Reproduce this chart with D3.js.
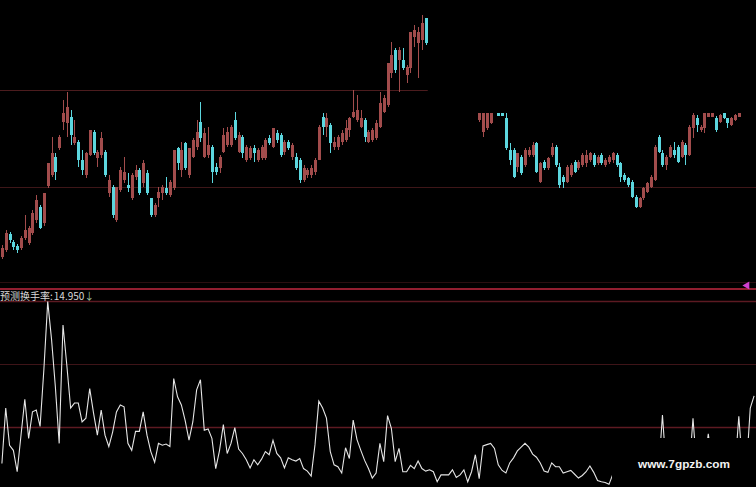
<!DOCTYPE html>
<html><head><meta charset="utf-8">
<script src="https://cdn.jsdelivr.net/npm/d3@7"></script>
<style>body{margin:0;background:#000}svg{display:block}</style>
</head><body>
<svg id="c" width="756" height="487"></svg>
<script>
// ---- data: [open, high, low, close] ----
const candlesLeft = [
[4.3,5.5,4.1,5.2],[5.0,7.0,4.8,6.7],[6.6,6.8,5.7,6.0],[5.8,6.0,5.0,5.3],[5.4,5.6,4.7,5.0],
[5.2,6.4,5.0,6.2],[6.2,8.5,6.0,7.0],[5.7,7.4,5.5,7.2],[6.7,9.0,6.5,8.7],[8.0,10.5,7.7,10.0],
[9.3,9.5,7.1,7.2],[7.7,10.7,7.4,10.7],[11.4,13.7,11.2,13.7],[12.5,16.3,12.3,14.7],[14.3,14.7,12.0,12.8],
[15.2,16.5,15.0,16.3],[17.8,20.0,17.0,18.7],[17.7,20.8,16.3,19.3],[18.3,19.0,15.5,16.5],[15.7,18.0,15.5,16.3],
[15.8,16.0,13.3,14.0],[14.0,15.0,12.5,13.0],[12.5,14.8,12.2,14.7],[14.5,17.0,14.4,17.0],[16.8,17.0,14.5,14.7],
[14.2,15.0,13.3,14.8],[14.5,16.8,14.2,16.2],[14.8,15.0,12.3,12.5],[10.7,12.5,10.3,12.0],[11.3,11.5,8.2,8.5],
[8.0,11.3,7.8,11.3],[11.0,13.3,10.8,13.0],[12.0,14.3,11.7,12.8],[11.5,12.7,10.8,11.2],[10.2,12.7,10.0,12.5],
[12.3,13.5,12.0,13.0],[13.0,13.2,10.5,10.7],[11.7,14.0,11.3,13.7],[12.7,13.0,10.5,10.7],[10.2,10.2,8.3,8.5],
[8.5,9.7,8.3,9.5],[10.2,11.3,9.3,10.8],[10.7,11.5,10.0,11.3],[11.2,12.3,10.5,10.7],[10.5,12.0,10.3,11.8],
[11.2,15.0,11.0,15.0],[15.2,15.3,13.0,13.7],[13.0,15.8,12.3,15.0],[15.7,15.8,13.0,13.2],[12.5,15.2,12.2,15.2],
[14.3,16.2,14.2,16.0],[15.3,18.0,15.0,16.8],[17.8,19.8,15.8,16.2],[14.3,17.2,14.2,16.7],[14.5,17.3,14.2,15.5],
[15.3,15.5,11.7,12.8],[13.3,13.7,12.5,12.8],[13.2,14.5,12.7,14.3],[14.8,17.2,14.7,16.5],[15.5,17.3,15.3,16.8],
[15.5,17.5,15.3,17.3],[18.0,18.8,16.0,16.2],[14.8,16.8,14.7,16.5],[16.3,16.5,14.2,14.7],[14.0,15.5,13.8,15.3],
[14.2,15.4,14.0,15.2],[15.2,15.5,13.8,14.7],[14.0,15.2,13.8,15.0],[14.2,15.5,14.0,15.3],[14.2,16.2,14.0,16.0],
[16.2,16.5,15.5,15.7],[15.3,17.2,15.2,17.2],[16.7,17.0,15.7,16.0],[16.5,16.7,14.3,14.5],[14.8,16.0,14.5,15.8],
[15.8,16.0,15.0,15.2],[14.3,15.7,14.0,15.5],[14.3,14.7,13.0,13.2],[14.0,14.2,11.7,12.0],[12.0,13.5,11.8,13.2],
[12.5,13.2,12.2,13.0],[12.5,13.5,12.2,13.2],[12.8,14.2,12.5,14.0],[14.0,17.5,14.0,17.3],[18.3,18.7,16.5,17.3],
[17.3,18.7,16.3,18.2],[17.5,17.7,14.7,15.7],[15.3,16.3,15.0,15.8],[15.3,16.5,15.0,16.3],[15.8,17.0,15.5,16.7],
[16.0,18.0,15.8,17.2],[17.0,18.3,16.3,18.2],[18.3,21.0,18.2,18.8],[18.0,20.5,17.8,19.0],[17.3,19.0,17.2,18.2],
[18.0,18.2,15.8,16.3],[15.8,17.0,15.7,16.8],[16.0,17.2,15.8,17.0],[16.2,18.0,16.0,17.7],[17.3,20.8,17.2,19.7],
[18.8,20.5,18.7,20.2],[19.5,23.7,19.3,23.7],[22.7,25.8,22.2,24.5],[25.0,25.2,22.7,23.0],[24.0,25.3,20.8,25.0],
[24.0,25.2,23.0,23.2],[22.5,23.5,21.7,23.3],[23.2,26.8,22.7,26.8],[26.3,27.5,25.3,27.0],[25.7,27.3,22.2,26.8],
[26.0,28.5,25.0,27.7],[28.2,28.2,25.5,25.7]
];
const rightStart = 125;
const candlesRight = [
[18.0,18.7,17.8,18.7],[16.8,18.7,16.3,18.7],[17.2,18.7,17.0,18.7],[17.7,18.7,17.6,18.7],null,
[18.7,18.7,18.4,18.4],[18.7,18.7,18.4,18.4],[18.2,18.7,15.0,15.2],[15.0,15.7,13.5,14.0],[15.0,15.2,12.2,12.3],
[13.3,14.7,12.8,14.7],[14.3,14.5,12.5,12.7],[13.5,15.2,13.3,15.0],[14.5,15.3,14.3,15.0],[14.5,15.8,14.3,15.5],
[15.7,15.8,12.7,12.8],[11.8,13.8,11.7,13.7],[13.8,14.0,13.0,13.2],[13.2,14.3,13.0,14.2],[14.5,15.7,14.3,15.3],
[15.3,15.5,13.3,13.5],[13.3,13.7,11.2,11.5],[12.3,12.5,11.2,11.8],[11.8,13.5,11.7,13.3],[12.5,13.7,12.3,13.5],
[13.8,14.0,12.7,12.8],[13.2,14.0,13.0,13.8],[13.5,14.7,13.3,14.5],[13.7,15.0,13.3,14.5],[14.0,14.8,13.8,14.7],
[14.5,14.7,13.3,13.5],[13.7,14.5,13.5,14.3],[14.5,14.7,13.5,13.7],[13.5,14.2,13.3,14.0],[13.8,14.5,13.6,14.3],
[14.0,14.8,13.7,14.7],[14.5,14.7,13.3,13.5],[13.7,13.8,11.8,12.3],[12.5,12.7,11.8,12.0],[12.2,12.3,11.3,11.5],
[11.8,12.0,10.2,10.3],[10.3,10.5,9.2,9.3],[9.3,10.3,9.2,10.2],[10.2,11.3,10.0,11.2],[10.8,11.8,10.7,11.7],
[11.3,12.5,11.2,12.3],[12.0,15.5,11.9,15.3],[16.3,16.5,14.7,14.8],[14.7,15.0,13.3,13.5],[13.5,14.5,13.0,14.3],
[14.3,15.5,14.2,15.3],[15.0,15.8,14.2,14.5],[15.3,15.5,13.7,13.8],[14.3,16.0,14.2,15.8],[15.5,15.7,13.5,14.5],
[14.5,17.5,14.4,17.3],[17.2,18.7,16.2,18.5],[18.2,18.5,16.8,17.5],[17.0,17.5,16.8,17.3],[17.2,18.7,16.7,18.7],
[18.3,18.7,18.3,18.7],[18.3,18.7,18.3,18.7],[18.2,18.4,16.8,17.0],[17.8,18.6,17.7,18.5],[18.7,18.7,18.1,18.2],
[18.2,18.2,17.2,17.7],[17.5,18.3,17.4,18.2],[18.0,18.6,17.9,18.5],[18.3,18.7,18.3,18.7]
];
const turnover = [
4.2,13.0,7.1,6.3,2.9,8.7,14.4,8.2,12.4,12.7,
10.1,19.2,29.9,23.9,16.4,7.4,26.2,19.8,13.0,13.8,
13.8,10.8,11.4,16.1,12.2,8.7,12.7,8.7,6.9,9.2,
12.4,13.5,13.2,7.4,6.3,9.3,9.3,12.4,8.7,6.1,
4.4,7.4,7.1,7.3,6.9,17.7,14.8,13.5,11.0,7.9,
10.8,15.9,17.5,9.5,9.7,8.2,3.4,6.3,10.4,5.8,
7.4,9.9,6.5,5.8,4.8,3.5,4.8,4.0,4.9,6.1,
5.6,7.9,5.8,5.1,3.5,5.1,4.8,4.6,5.0,3.4,
3.0,2.2,7.2,14.1,13.0,11.4,6.1,4.0,3.7,2.7,
6.7,5.0,11.1,8.0,6.3,4.7,3.4,1.9,2.7,7.4,
4.5,11.8,9.8,4.5,6.6,2.9,2.9,3.9,3.4,4.6,
3.4,3.0,3.2,2.9,1.3,2.4,2.4,2.4,3.2,2.0,
2.4,3.2,1.3,2.9,5.6,1.8,7.0,7.2,7.4,6.6,
4.0,3.1,2.7,4.3,5.1,6.2,6.8,7.4,6.8,5.7,
5.2,4.3,3.0,2.8,4.3,3.7,3.7,2.7,2.9,3.1,
2.5,1.9,2.3,2.9,3.8,2.8,1.5,1.3,1.2,0.9,
2.5,3.0,2.2,3.5,4.0,2.8,3.2,2.5,3.8,3.0,
2.6,3.4,3.0,11.9,3.2,2.8,3.5,2.9,3.6,3.1,
3.0,11.4,3.3,3.0,4.0,8.9,4.2,3.5,3.0,3.8,
3.2,2.9,3.4,11.7,3.5,3.6,13.0,14.95
];
const priceLevels = [21.0, 11.3];
const turnoverLevels = [10, 20];
const indicatorName = "预测换手率";
const watermark = "www.7gpzb.com";

// ---- build ----
const W = 756, H = 487;
const candles = candlesLeft.slice();
while (candles.length < rightStart) candles.push(null);
candlesRight.forEach(d => candles.push(d));

const svg = d3.select("#c");
svg.append("rect").attr("width", W).attr("height", H).attr("fill", "#000");

const n = turnover.length;
const x = d3.scaleBand().domain(d3.range(n)).range([0, W]);
const cx = i => x(i) + x.bandwidth() / 2;
const yP = d3.scaleLinear().domain([3, 28]).range([270, 20]);
const yT = d3.scaleLinear().domain([0, 20]).range([490, 364]);

// price reference lines
svg.append("g").selectAll("line").data(priceLevels).join("line")
  .attr("x1", 0)
  .attr("x2", (d, i) => i === 0 ? cx(candlesLeft.length - 1) + 2 : W)
  .attr("y1", d => Math.round(yP(d)) + 0.5).attr("y2", d => Math.round(yP(d)) + 0.5)
  .attr("stroke", (d, i) => i === 0 ? "#4c1c1e" : "#3e1618").attr("stroke-width", 1.2);

// panel separators
const sep = svg.append("g");
sep.append("line").attr("x1", 0).attr("x2", W).attr("y1", 282.5).attr("y2", 282.5).attr("stroke", "#2a0e10");
sep.append("line").attr("x1", 0).attr("x2", W).attr("y1", 289).attr("y2", 289).attr("stroke", "#921e30").attr("stroke-width", 2);
sep.append("line").attr("x1", 0).attr("x2", W).attr("y1", 301.5).attr("y2", 301.5).attr("stroke", "#5c1a22").attr("stroke-width", 1.3);

// turnover reference lines
svg.append("g").selectAll("line").data(turnoverLevels).join("line")
  .attr("x1", 0).attr("x2", W)
  .attr("y1", d => Math.round(yT(d)) + 0.5).attr("y2", d => Math.round(yT(d)) + 0.5)
  .attr("stroke", d => d === 10 ? "#5e1a22" : "#3e1418").attr("stroke-width", d => d === 10 ? 1.6 : 1.2);

// candles
const up = "#a24c4c", down = "#5cd6de";
const cg = svg.append("g");
const valid = candles.map((d, i) => ({d, i})).filter(o => o.d);
cg.selectAll("line").data(valid).join("line")
  .attr("x1", o => Math.round(cx(o.i)) + 0.5).attr("x2", o => Math.round(cx(o.i)) + 0.5)
  .attr("y1", o => yP(o.d[1])).attr("y2", o => yP(o.d[2]))
  .attr("stroke", o => o.d[3] >= o.d[0] ? up : down).attr("stroke-width", 1);
cg.selectAll("rect").data(valid).join("rect")
  .attr("x", o => Math.round(cx(o.i)) - 1)
  .attr("width", 3)
  .attr("y", o => yP(Math.max(o.d[0], o.d[3])))
  .attr("height", o => Math.max(1, Math.abs(yP(o.d[0]) - yP(o.d[3]))))
  .attr("fill", o => o.d[3] >= o.d[0] ? up : down);

// turnover line (lower right area is covered)
const defs = svg.append("defs");
const cp = defs.append("clipPath").attr("id", "tclip");
cp.append("rect").attr("x", 0).attr("y", 296).attr("width", 612).attr("height", H - 296);
cp.append("rect").attr("x", 612).attr("y", 296).attr("width", W - 612).attr("height", 438 - 296);
svg.append("path").datum(turnover)
  .attr("clip-path", "url(#tclip)")
  .attr("d", d3.line().x((d, i) => cx(i)).y(d => yT(d)))
  .attr("fill", "none").attr("stroke", "#e6e6e6").attr("stroke-width", 1.1);

// label
const lbl = svg.append("text").attr("x", 0).attr("y", 299.5)
  .attr("font-family", "'Noto Sans CJK SC', sans-serif").attr("font-size", 10).attr("fill", "#d8d8d8");
lbl.append("tspan").text(indicatorName + ":");
lbl.append("tspan").attr("dx", 1).text(d3.format(".3f")(turnover[n - 1]));
lbl.append("tspan").attr("fill", "#9fc0a0").text("↓");

// marker triangle
svg.append("path").attr("d", d3.symbol(d3.symbolTriangle, 28)())
  .attr("transform", "translate(747,285.5) rotate(-90)").attr("fill", "#d040d0");

// watermark
svg.append("text").attr("x", 638).attr("y", 468)
  .attr("font-family", "'Liberation Sans', Arial, sans-serif").attr("font-weight", "bold")
  .attr("font-size", 11.8).attr("fill", "#f2f2f2").text(watermark);
</script>
</body></html>
